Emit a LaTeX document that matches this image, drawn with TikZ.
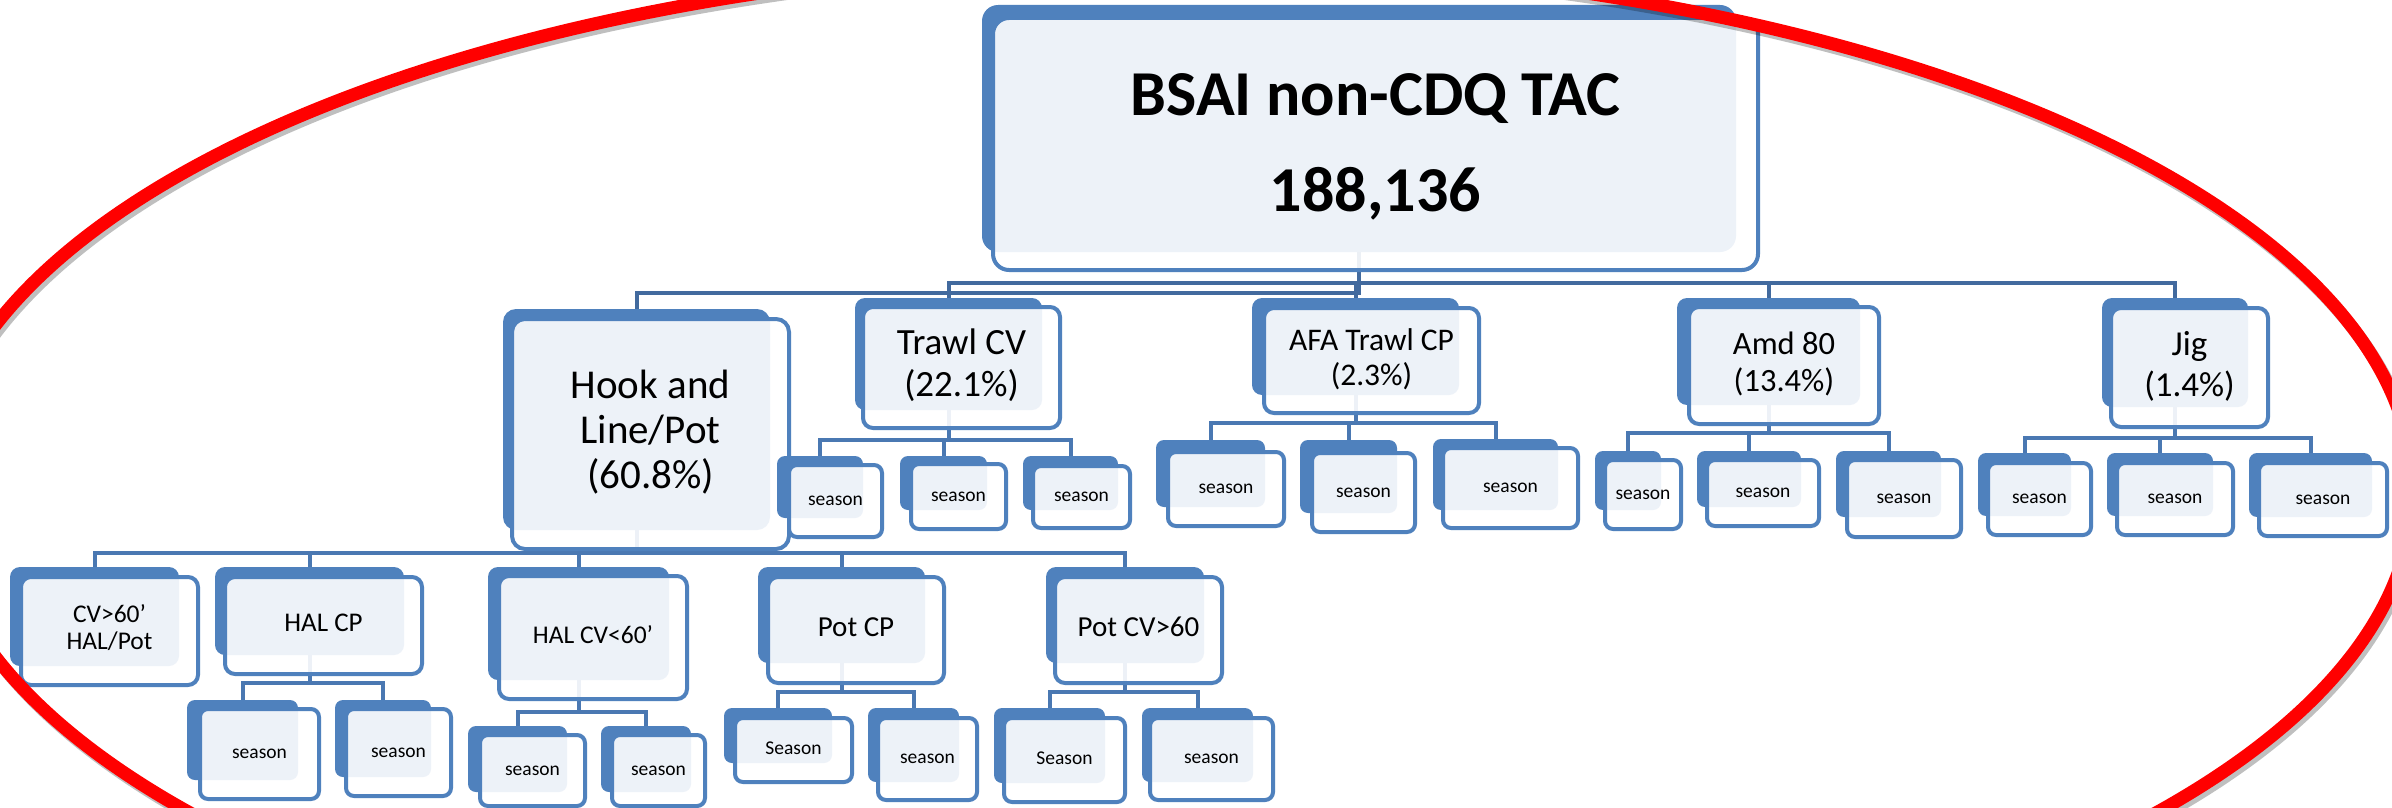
\documentclass[tikz,border=0pt]{standalone}
\usepackage{fontspec}
\setmainfont{Carlito}
\usetikzlibrary{fit}
\definecolor{bblue}{RGB}{79,129,189}
\definecolor{cblue}{RGB}{66,106,158}
\definecolor{cblue2}{RGB}{74,120,178}
\pgfdeclarelayer{backdrop}
\pgfdeclarelayer{bg}
\pgfsetlayers{backdrop,bg,main}
\tikzset{
  backbox/.style={fill=bblue, draw=none, rounded corners=#1, inner sep=0pt, outer sep=0pt},
  backbox/.default=8pt,
  frontbox/.style={draw=bblue, line width=4pt, fill=white, fill opacity=0.9,
    rounded corners=#1, inner sep=0pt, outer sep=0pt},
  frontbox/.default=9pt,
  label text/.style={inner sep=0pt, outer sep=0pt, text=black, anchor=center},
  conn/.style={draw=cblue, line width=4pt},
  connlow/.style={draw=cblue2, line width=4pt},
  ring/.style={draw=red, line width=13pt},
  ringshadow/.style={draw=black, opacity=0.25, line width=13pt},
}
\newcommand{\ob}[8]{%
  \node[backbox=#6, fit={(#2) (#3)}] (#1B) {};
  \node[frontbox=#6, fit={(#4) (#5)}] (#1) {};
  \node[label text, font={#7}] (#1T) at (#1.center) {\begin{tabular}{@{}c@{}}#8\end{tabular}};
}
\newcommand{\sfnt}{\fontsize{19.5}{23}\selectfont}
\begin{document}
\begin{tikzpicture}[x=1pt, y=-1pt]
\useasboundingbox (0,0) rectangle (2392,808);
\begin{pgfonlayer}{backdrop}
  \fill[white] (0,0) rectangle (2392,808);
\end{pgfonlayer}
\clip (0,0) rectangle (2392,808);

% level 1
\ob{top}{982,5}{1736,252}{993,18}{1758,270}{16pt}{\bfseries\fontsize{64}{96}\selectfont}{BSAI non-CDQ TAC\\188,136}

% level 2
\ob{hook}{503,309}{770,530}{512,319}{789,549}{13pt}{\fontsize{41}{45}\selectfont}{Hook and\\Line/Pot\\(60.8\%)}
\ob{trawl}{855,298}{1042,410}{863,307}{1060,428}{10pt}{\fontsize{37}{42}\selectfont}{Trawl CV\\(22.1\%)}
\ob{afa}{1252,298}{1459,395}{1264,308}{1479,413}{10pt}{\fontsize{31.5}{35}\selectfont}{AFA Trawl CP\\(2.3\%)}
\ob{amd}{1677,298}{1860,405}{1689,307}{1879,424}{10pt}{\fontsize{32.5}{37}\selectfont}{Amd 80\\(13.4\%)}
\ob{jig}{2102,298}{2248,407}{2111,308}{2268,427}{10pt}{\fontsize{35}{41}\selectfont}{Jig\\(1.4\%)}

% seasons under level 2
\ob{t1}{777,456}{863,518}{789,465}{882,537}{8pt}{\sfnt}{season}
\ob{t2}{900,456}{987,510}{911,464}{1006,529}{8pt}{\sfnt}{season}
\ob{t3}{1023,456}{1118,510}{1033,466}{1130,528}{8pt}{\sfnt}{season}
\ob{a1}{1156,440}{1265,507}{1168,452}{1284,526}{8pt}{\sfnt}{season}
\ob{a2}{1300,440}{1397,513}{1312,453}{1415,532}{8pt}{\sfnt}{season}
\ob{a3}{1433,439}{1558,510}{1443,448}{1578,528}{8pt}{\sfnt}{season}
\ob{m1}{1595,451}{1661,510}{1605,460}{1681,529}{8pt}{\sfnt}{season}
\ob{m2}{1697,451}{1801,507}{1707,460}{1819,526}{8pt}{\sfnt}{season}
\ob{m3}{1836,451}{1941,517}{1847,460}{1961,537}{8pt}{\sfnt}{season}
\ob{j1}{1978,453}{2071,516}{1988,463}{2091,535}{8pt}{\sfnt}{season}
\ob{j2}{2107,453}{2213,516}{2117,463}{2233,535}{8pt}{\sfnt}{season}
\ob{j3}{2249,453}{2372,517}{2259,463}{2387,536}{8pt}{\sfnt}{season}

% level 3 under Hook and Line/Pot
\ob{c1}{10,567}{179,666}{21,577}{198,685}{10pt}{\fontsize{25.5}{27}\selectfont}{CV>60’\\HAL/Pot}
\ob{c2}{215,567}{404,655}{225,577}{422,674}{10pt}{\fontsize{27}{30}\selectfont}{HAL CP}
\ob{c3}{488,567}{669,680}{499,576}{687,699}{10pt}{\fontsize{25.5}{30}\selectfont}{HAL CV<60’}
\ob{c4}{758,567}{925,663}{768,577}{944,683}{10pt}{\fontsize{29}{32}\selectfont}{Pot CP}
\ob{c5}{1046,567}{1204,663}{1055,577}{1222,683}{10pt}{\fontsize{29}{32}\selectfont}{Pot CV>60}

% level 4 seasons
\ob{h1}{187,700}{298,780}{200,709}{319,799}{8pt}{\sfnt}{season}
\ob{h2}{335,700}{431,777}{346,709}{451,796}{8pt}{\sfnt}{season}
\ob{v1}{468,726}{567,792}{480,735}{585,806}{8pt}{\sfnt}{season}
\ob{v2}{601,726}{691,792}{612,735}{705,806}{8pt}{\sfnt}{season}
\ob{p1}{724,708}{832,763}{735,718}{852,782}{8pt}{\sfnt}{Season}
\ob{p2}{868,708}{959,782}{878,718}{977,800}{8pt}{\sfnt}{season}
\ob{q1}{994,708}{1105,783}{1004,718}{1125,802}{8pt}{\sfnt}{Season}
\ob{q2}{1142,708}{1253,782}{1150,718}{1273,800}{8pt}{\sfnt}{season}

% connectors
\begin{pgfonlayer}{bg}
  \draw[conn] (topB.south) -- ++(0,31) -| (trawlB.north);
  \draw[conn] (topB.south) -- ++(0,31) -| (afaB.north);
  \draw[conn] (topB.south) -- ++(0,31) -| (amdB.north);
  \draw[conn] (topB.south) -- ++(0,31) -| (jigB.north);
  \draw[conn] (topB.south) -- ++(0,41) -| (hookB.north);
  \foreach \c in {c1,c2,c3,c4,c5}
    \draw[connlow] (hookB.south) -- ++(0,23) -| (\c B.north);
  \foreach \c in {t1,t2,t3}
    \draw[connlow] (trawlB.south) -- ++(0,30) -| (\c B.north);
  \foreach \c in {a1,a2,a3}
    \draw[connlow] (afaB.south) -- ++(0,28) -| (\c B.north);
  \foreach \c in {m1,m2,m3}
    \draw[connlow] (amdB.south) -- ++(0,28) -| (\c B.north);
  \foreach \c in {j1,j2,j3}
    \draw[connlow] (jigB.south) -- ++(0,31) -| (\c B.north);
  \foreach \c in {h1,h2}
    \draw[connlow] (c2B.south) -- ++(0,28) -| (\c B.north);
  \foreach \c in {v1,v2}
    \draw[connlow] (c3B.south) -- ++(0,32) -| (\c B.north);
  \foreach \c in {p1,p2}
    \draw[connlow] (c4B.south) -- ++(0,29) -| (\c B.north);
  \foreach \c in {q1,q2}
    \draw[connlow] (c5B.south) -- ++(0,29) -| (\c B.north);
\end{pgfonlayer}

% red ring
\draw[ringshadow] (1176,495) ellipse [x radius=1240pt, y radius=528pt];
\draw[ring] (1173,491) ellipse [x radius=1240pt, y radius=528pt];
\end{tikzpicture}
\end{document}
